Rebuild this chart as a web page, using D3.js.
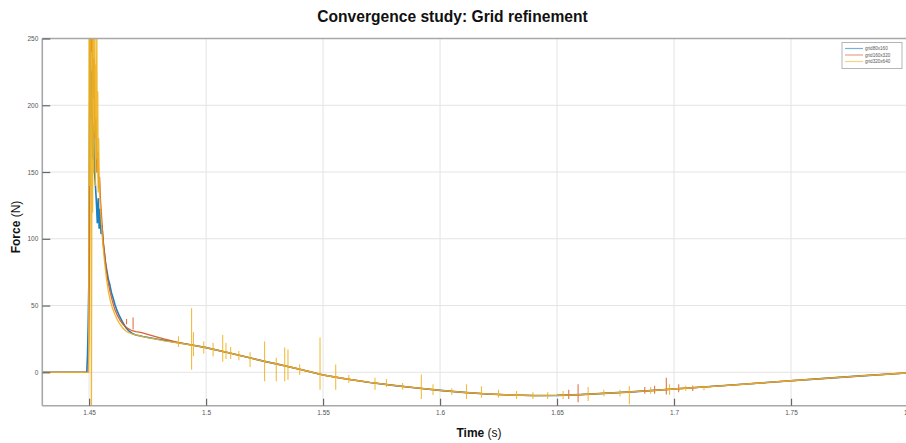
<!DOCTYPE html>
<html>
<head>
<meta charset="utf-8">
<script src="https://cdn.jsdelivr.net/npm/d3@7"></script>
<style>
  body { margin: 0; background: #fff; }
  svg { display: block; font-family: "Liberation Sans", Arial, sans-serif; }
</style>
</head>
<body>
<svg id="chart" width="906" height="443"></svg>
<script>
// ---- axis ticks ----
const xTicks = [1.45, 1.5, 1.55, 1.6, 1.65, 1.7, 1.75, 1.8];
const xTickLabels = ["1.45", "1.5", "1.55", "1.6", "1.65", "1.7", "1.75", "1.8"];
const yTicks = [0, 50, 100, 150, 200, 250];
const yTickLabels = ["0", "50", "100", "150", "200", "250"];

// ---- series ----
const seriesNames = ["grid80x160", "grid160x320", "grid320x640"];
const seriesColors = ["#0072BD", "#D95319", "#EDB120"];

// impact transient, coarse grid
const coarseTime = [1.43, 1.4490, 1.4493, 1.4496, 1.4499, 1.4502, 1.4505, 1.4508, 1.4511, 1.4515, 1.4519,
  1.4523, 1.4527, 1.4531, 1.4535, 1.4539, 1.4543, 1.4547, 1.4551, 1.4555, 1.456, 1.4565, 1.457, 1.4576,
  1.4582, 1.4588, 1.4595, 1.4602, 1.461, 1.462, 1.463, 1.4642, 1.4655, 1.467, 1.4685, 1.47, 1.473, 1.477,
  1.482, 1.488, 1.494];
const coarseForce = [0, 0, 12, 35, 68, 180, 262, 190, 225, 160, 185,
  150, 140, 128, 112, 130, 108, 122, 104, 110, 97, 90, 82, 76,
  70, 66, 60, 56, 51, 46, 42, 38, 34, 31, 29, 28, 26.8, 25.5,
  24, 22.2, 20.4];

// impact transient, medium grid
const mediumTime = [1.43, 1.4496, 1.4499, 1.4502, 1.4505, 1.4509, 1.4513, 1.4517, 1.4521, 1.4525, 1.4529,
  1.4533, 1.4537, 1.4541, 1.4545, 1.4549, 1.4553, 1.4558, 1.4563, 1.4569, 1.4575, 1.4582, 1.459, 1.46,
  1.461, 1.462, 1.4632, 1.4645, 1.466, 1.468, 1.47, 1.4725, 1.475, 1.478, 1.482, 1.488, 1.494];
const mediumForce = [0, 0, 25, 110, 262, 240, 262, 205, 235, 175, 190,
  150, 165, 138, 146, 128, 118, 104, 94, 84, 75, 67, 60, 53,
  47, 43, 39, 36, 33.5, 31.5, 30.5, 29.8, 28.5, 27, 25, 22.5, 20.4];

// impact transient, fine grid
const fineTime = [1.43, 1.4498, 1.4500, 1.4503, 1.4506, 1.4510, 1.4513, 1.4515, 1.4517, 1.4519, 1.4521,
  1.4523, 1.4525, 1.4527, 1.4529, 1.4531, 1.4533, 1.4535, 1.4537, 1.4539, 1.4541, 1.4543, 1.4546, 1.455,
  1.4554, 1.4558, 1.4563, 1.4569, 1.4575, 1.4582, 1.459, 1.46, 1.461, 1.462, 1.4632, 1.4645, 1.466,
  1.468, 1.47, 1.4725, 1.475, 1.478, 1.482, 1.488, 1.494];
const fineForce = [0, 0, 265, 140, 265, -30, 265, 120, 265, 150, 265,
  180, 265, 140, 230, 160, 265, 150, 210, 135, 175, 150, 130, 118,
  108, 98, 88, 78, 69, 61, 54, 48, 43.5, 39.5, 36, 33, 30.5,
  29, 28, 27, 26, 25, 23.5, 22, 20.4];

// slow decay shared by all grids
const tailTime = [1.50, 1.51, 1.52, 1.525, 1.53, 1.54, 1.55, 1.56, 1.57, 1.58, 1.59, 1.60, 1.61, 1.62,
  1.63, 1.64, 1.65, 1.66, 1.67, 1.68, 1.69, 1.70, 1.72, 1.74, 1.75, 1.76, 1.78, 1.80];
const tailForce = [18.5, 14.5, 10.3, 8.2, 6.3, 2.3, -2, -5, -7.6, -9.8, -11.7, -13.5, -15, -16.2,
  -17, -17.4, -17.3, -16.7, -15.8, -14.8, -13.7, -12.5, -10.1, -7.6, -6.3, -5.1, -2.7, -0.4];

// numerical glitches: time, upper and lower force of each spike
const fineSpikeTime = [1.4882, 1.4938, 1.4946, 1.4990, 1.5030, 1.5071, 1.5085, 1.5105, 1.5140, 1.5188,
  1.5250, 1.5300, 1.5336, 1.5350, 1.5400, 1.5487, 1.5554, 1.5610, 1.5722, 1.5771, 1.5840, 1.5920,
  1.5970, 1.6050, 1.6113, 1.6177, 1.6250, 1.6327, 1.6397, 1.6460, 1.6526, 1.6633, 1.6700, 1.6769,
  1.6809, 1.6900, 1.6981, 1.7050, 1.7128];
const fineSpikeHigh = [27, 48, 30, 23, 22, 28, 22, 19, 16, 15,
  23, 11, 18.5, 17, 6, 26, 5.8, -2, -4, -5, -8, -1.7,
  -9, -12, -9, -10.5, -13, -14, -15, -15, -14, -11, -13, -13,
  -10.5, -11, -9, -10, -10];
const fineSpikeLow = [19, 2, 12, 14, 12, 8, 10, 10, 9, 4,
  -6.7, -6.7, -6.7, -5.5, -2, -13, -13, -8, -13, -11, -13, -20,
  -17, -17, -20, -19, -19, -20, -20, -20, -20, -21.5, -18, -18,
  -24, -16, -17, -14, -13.5];

const mediumSpikeTime = [1.4660, 1.4688, 1.6550, 1.6590, 1.6875, 1.6917, 1.6967, 1.7020, 1.7080];
const mediumSpikeHigh = [40, 41, -13, -9, -11, -10, -4, -9, -10];
const mediumSpikeLow = [36, 32, -20, -22.5, -16, -16, -16.7, -15, -14];

// ---- layout ----
const svg = d3.select("#chart");
const plotLeft = 42.3, plotRight = 908, plotTop = 38.5, plotBottom = 405.7;

const x = d3.scaleLinear().domain([1.43, 1.8]).range([plotLeft, plotRight]);
const y = d3.scaleLinear().domain([-25, 250]).range([plotBottom, plotTop]);

svg.append("defs").append("clipPath").attr("id", "plotClip")
  .append("rect").attr("x", plotLeft).attr("y", plotTop)
  .attr("width", plotRight - plotLeft).attr("height", plotBottom - plotTop);

// grid
const grid = svg.append("g").attr("stroke", "#e4e4e4").attr("stroke-width", 1);
grid.selectAll(".gx").data(xTicks).join("line")
  .attr("x1", d => x(d)).attr("x2", d => x(d)).attr("y1", plotTop).attr("y2", plotBottom);
grid.selectAll(".gy").data(yTicks).join("line")
  .attr("x1", plotLeft).attr("x2", plotRight).attr("y1", d => y(d)).attr("y2", d => y(d));

// curves
const line = d3.line().x(d => x(d[0])).y(d => y(d[1]));
const build = (t, f) => t.map((v, i) => [v, f[i]]).concat(tailTime.map((v, i) => [v, tailForce[i]]));
const series = [
  build(coarseTime, coarseForce),
  build(mediumTime, mediumForce),
  build(fineTime, fineForce)
];

const plot = svg.append("g").attr("clip-path", "url(#plotClip)");
series.forEach((s, i) => {
  plot.append("path").datum(s)
    .attr("fill", "none")
    .attr("stroke", seriesColors[i])
    .attr("stroke-width", i === 0 ? 1.6 : 1.3)
    .attr("stroke-opacity", 0.9)
    .attr("stroke-linejoin", "round")
    .attr("d", line);
  if (i === 1) {
    plot.append("g").selectAll("line").data(mediumSpikeTime).join("line")
      .attr("x1", d => x(d)).attr("x2", d => x(d))
      .attr("y1", (d, k) => y(mediumSpikeHigh[k])).attr("y2", (d, k) => y(mediumSpikeLow[k]))
      .attr("stroke", seriesColors[1]).attr("stroke-width", 1.1).attr("stroke-opacity", 0.8);
  }
});
plot.append("g").selectAll("line").data(fineSpikeTime).join("line")
  .attr("x1", d => x(d)).attr("x2", d => x(d))
  .attr("y1", (d, k) => y(fineSpikeHigh[k])).attr("y2", (d, k) => y(fineSpikeLow[k]))
  .attr("stroke", seriesColors[2]).attr("stroke-width", 1.1).attr("stroke-opacity", 0.85);

// axes frame
const frame = svg.append("g").attr("stroke", "#a8a8a8").attr("stroke-width", 1.6).attr("fill", "none");
frame.append("line").attr("x1", plotLeft).attr("x2", plotLeft).attr("y1", plotTop).attr("y2", plotBottom);
frame.append("line").attr("x1", plotLeft).attr("x2", plotRight).attr("y1", plotBottom).attr("y2", plotBottom);
frame.append("line").attr("x1", plotLeft).attr("x2", plotRight).attr("y1", plotTop).attr("y2", plotTop);

// inward ticks and labels
const xAxis = d3.axisBottom(x).tickValues(xTicks).tickSizeInner(-7).tickSizeOuter(0)
  .tickPadding(5).tickFormat((d, i) => xTickLabels[i]);
const gx = svg.append("g").attr("transform", `translate(0,${plotBottom})`).call(xAxis);
gx.select(".domain").remove();
gx.selectAll(".tick line").attr("stroke", "#666").attr("stroke-width", 1.2);
gx.selectAll(".tick text").attr("fill", "#555").attr("font-size", 6.5)
  .attr("font-family", "'Liberation Sans', Arial, sans-serif");

const yAxis = d3.axisLeft(y).tickValues(yTicks).tickSizeInner(-8).tickSizeOuter(0)
  .tickPadding(4).tickFormat((d, i) => yTickLabels[i]);
const gy = svg.append("g").attr("transform", `translate(${plotLeft},0)`).call(yAxis);
gy.select(".domain").remove();
gy.selectAll(".tick line").attr("stroke", "#666").attr("stroke-width", 1.2);
gy.selectAll(".tick text").attr("fill", "#555").attr("font-size", 6.5)
  .attr("font-family", "'Liberation Sans', Arial, sans-serif");

// titles
svg.append("text").attr("x", 452.5).attr("y", 22).attr("text-anchor", "middle")
  .attr("font-size", 15.6).attr("font-weight", "bold").attr("fill", "#111")
  .text("Convergence study: Grid refinement");

const xl = svg.append("text").attr("x", 479).attr("y", 437).attr("text-anchor", "middle")
  .attr("font-size", 12).attr("fill", "#111");
xl.append("tspan").attr("font-weight", "bold").text("Time");
xl.append("tspan").text(" (s)");

const yl = svg.append("text").attr("transform", "translate(19.5,227) rotate(-90)")
  .attr("text-anchor", "middle").attr("font-size", 12).attr("fill", "#111");
yl.append("tspan").attr("font-weight", "bold").text("Force");
yl.append("tspan").text(" (N)");

// legend
const lg = svg.append("g").attr("transform", "translate(842,42.5)");
lg.append("rect").attr("width", 60).attr("height", 26)
  .attr("fill", "#fff").attr("stroke", "#b5b5b5").attr("stroke-width", 1);
seriesNames.forEach((name, i) => {
  const yy = 6 + i * 6.5;
  lg.append("line").attr("x1", 3).attr("x2", 21).attr("y1", yy).attr("y2", yy)
    .attr("stroke", seriesColors[i]).attr("stroke-width", 1.2).attr("stroke-opacity", 0.55);
  lg.append("text").attr("x", 23).attr("y", yy + 1.6).attr("font-size", 4.6)
    .attr("fill", "#555").text(name);
});
</script>
</body>
</html>
